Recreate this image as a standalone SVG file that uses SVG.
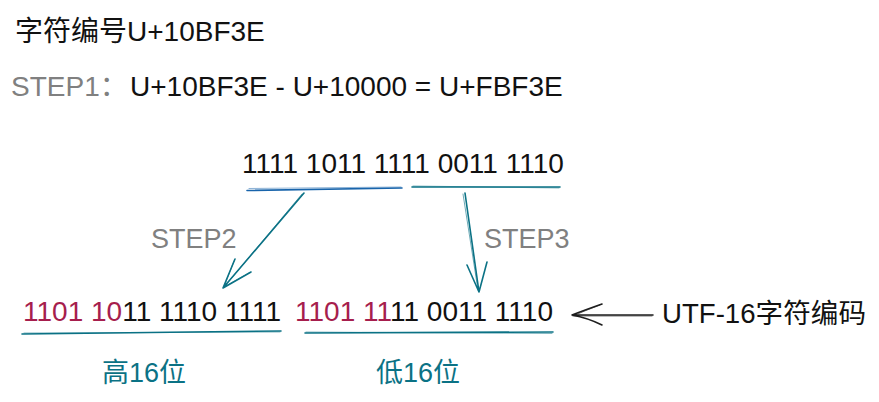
<svg xmlns="http://www.w3.org/2000/svg" width="879" height="402" viewBox="0 0 879 402">
<style>
text{font-family:"Liberation Sans","Noto Sans CJK SC",sans-serif;}
.blk{fill:#111111;}
.gray{fill:#808080;}
.red{fill:#a61e4d;}
.teal{fill:#0b7285;}
.t28{font-size:28px;}
.t27{font-size:27px;}
.ln{fill:none;stroke-linecap:round;stroke-linejoin:round;}
.tl{stroke:#0b7285;}
.bl{stroke:#1864ab;}
.dk{stroke:#1e1e1e;}
</style>
<rect width="879" height="402" fill="#ffffff"/>
<g id="title">
<text class="blk t28" x="15" y="41">字符编号U+10BF3E</text>
</g>
<g id="step1">
<text class="t28" x="11" y="96"><tspan class="gray">STEP1：</tspan><tspan class="blk" x="130">U+10BF3E - U+10000 = U+FBF3E</tspan></text>
</g>
<g id="source">
<text class="blk t28" x="242" y="173">1111 1011 1111 0011 1110</text>
</g>
<g id="step2">
<text class="gray t27" x="151" y="248">STEP2</text>
</g>
<g id="step3">
<text class="gray t27" x="484" y="248">STEP3</text>
</g>
<g id="high">
<text class="t28" x="23" y="321"><tspan class="red">1101 10</tspan><tspan class="blk">11 1110 1111</tspan></text>
<text class="teal t27" x="102" y="382">高16位</text>
</g>
<g id="low">
<text class="t28" x="295" y="321"><tspan class="red">1101 11</tspan><tspan class="blk">11 0011 1110</tspan></text>
<text class="teal t27" x="376" y="382">低16位</text>
</g>
<g id="utf16">
<text class="blk t27" x="662" y="323" textLength="204" lengthAdjust="spacingAndGlyphs">UTF-16字符编码</text>
</g>
<g id="connectors">
<path class="ln bl" stroke-width="1.6" d="M247 190.5 L402 188"/>
<path class="ln bl" stroke-width="1" stroke-opacity="0.5" d="M249 188.5 L401 187"/>
<path class="ln tl" stroke-width="1.6" d="M412 187 L560 187"/>
<path class="ln tl" stroke-width="1" stroke-opacity="0.5" d="M413 186 L559 188"/>
<path class="ln tl" stroke-width="1.6" d="M304 193 L223 288 M235 259 L223 288 L251 272"/>
<path class="ln tl" stroke-width="1" stroke-opacity="0.6" d="M302 194 L225 286 M234 261 L224 287 L249 273"/>
<path class="ln tl" stroke-width="1.6" d="M465 193 L479 292 M467 265 L479 292 L487 262"/>
<path class="ln tl" stroke-width="1" stroke-opacity="0.6" d="M463 194 L478 290"/>
<path class="ln tl" stroke-width="1.6" d="M22 334 L281 331"/>
<path class="ln tl" stroke-width="1" stroke-opacity="0.5" d="M24 333 L280 332"/>
<path class="ln tl" stroke-width="1.6" d="M305 333 L553 332"/>
<path class="ln tl" stroke-width="1" stroke-opacity="0.5" d="M306 332 L552 333.5"/>
<path class="ln dk" stroke-width="1.6" d="M653 315 L572 315 M602 304 Q585 310 572 315 Q588 318 602 325"/>
<path class="ln dk" stroke-width="1" stroke-opacity="0.6" d="M652 316 L574 316 M600 305 Q584 311 573 316"/>
</g>
</svg>
